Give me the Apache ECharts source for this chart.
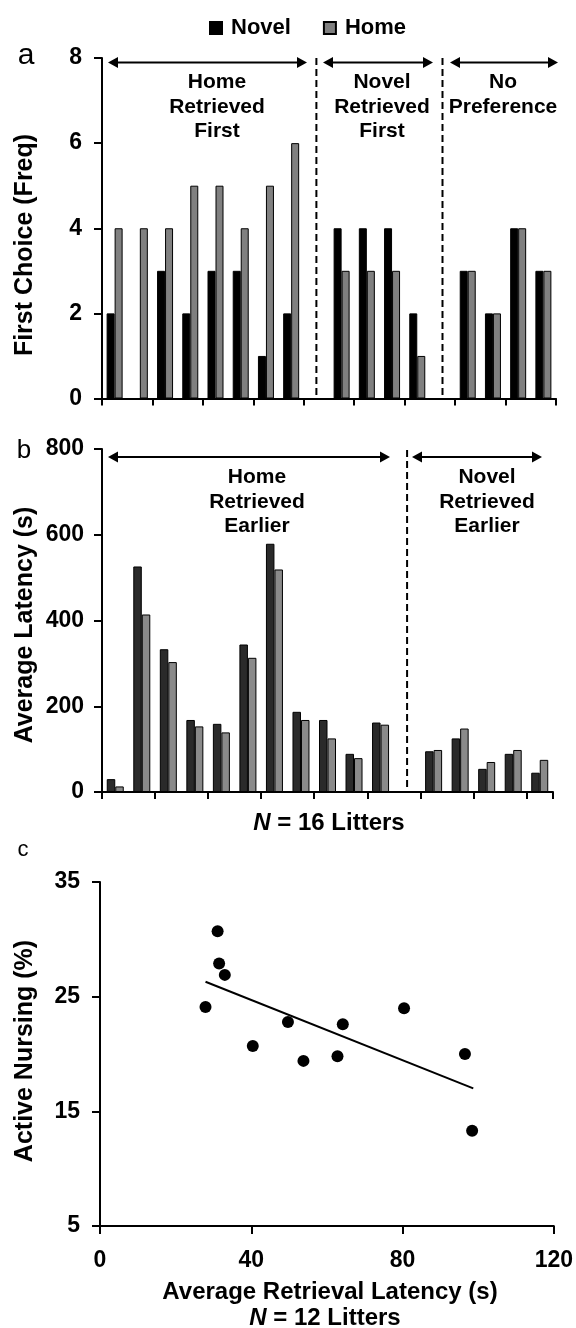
<!DOCTYPE html>
<html><head><meta charset="utf-8">
<script src="https://cdn.jsdelivr.net/npm/echarts@6/dist/echarts.min.js"></script>
<style>html,body{margin:0;padding:0;background:#fff}#c{width:576px;height:1328px}</style>
</head><body><div id="c"></div>
<script>
// ---- Panel a: first choice frequency (18 slots, two gap slots) ----
const catsA = ['L1','L2','L3','L4','L5','L6','L7','L8','gapA1','L9','L10','L11','L12','gapA2','L13','L14','L15','L16'];
const novelA = [2,0,3,2,3,3,1,2,null,4,4,4,2,null,3,2,4,3];
const homeA  = [4,4,4,5,5,4,5,6,null,3,3,3,1,null,3,2,4,3];
const ticksA = [0,2,4,6,8];

// ---- Panel b: average latency (17 slots, one gap slot) ----
const catsB = ['M1','M2','M3','M4','M5','M6','M7','M8','M9','M10','M11','gapB','M12','M13','M14','M15','M16'];
const novelB = [30,526,333,168,159,344,579,187,168,89,162,null,95,125,54,89,45];
const homeB  = [13,414,303,153,139,313,519,168,125,79,157,null,98,148,70,98,75];
const ticksB = [0,200,400,600,800];

// ---- Panel c: nursing vs latency ----
const latency = [31.1,31.5,33.0,27.9,40.4,49.7,53.8,62.8,64.2,80.4,96.5,98.4];
const nursing = [30.7,27.9,26.9,24.1,20.7,22.8,19.4,19.8,22.6,24.0,20.0,13.3];
const fitLine = [[27.9,26.3],[98.7,17.0]];
const ticksCx = [0,40,80,120];
const ticksCy = [5,15,25,35];

const FONT = '"Liberation Sans", Arial, Helvetica, sans-serif';
const chart = echarts.init(document.getElementById('c'), null, {renderer:'canvas'});

function catAxis(idx, cats){
  return {type:'category', gridIndex:idx, data:cats, boundaryGap:true,
    axisLine:{lineStyle:{color:'#000', width:2}},
    axisTick:{show:true, length:7, lineStyle:{color:'#000', width:2}},
    axisLabel:{show:false}, splitLine:{show:false}};
}
function valAxis(idx, min, max, interval, margin){
  return {type:'value', gridIndex:idx, min:min, max:max, interval:interval,
    axisLine:{show:true, lineStyle:{color:'#000', width:2}},
    axisTick:{show:true, length:8, lineStyle:{color:'#000', width:2}},
    axisLabel:{color:'#000', fontSize:23, fontWeight:'bold', fontFamily:FONT, margin:margin},
    splitLine:{show:false}};
}

const option = {
  animation:false,
  backgroundColor:'#fff',
  textStyle:{fontFamily:FONT},
  legend:{data:['Novel','Home'], left:204, top:12, icon:'rect', itemWidth:12, itemHeight:12, itemGap:32,
    textStyle:{color:'#000', fontSize:22, fontWeight:'bold', fontFamily:FONT, padding:[0,0,0,4]}},
  grid:[
    {left:102, top:58, width:454, height:340.5},
    {left:102, top:449, width:451, height:343},
    {left:100, top:882, width:454, height:344}
  ],
  xAxis:[
    catAxis(0, catsA),
    catAxis(1, catsB),
    valAxis(2, ticksCx[0], ticksCx[ticksCx.length-1], 40, 23)
  ],
  yAxis:[
    valAxis(0, ticksA[0], ticksA[ticksA.length-1], 2, 20),
    valAxis(1, ticksB[0], ticksB[ticksB.length-1], 200, 18),
    valAxis(2, ticksCy[0], ticksCy[ticksCy.length-1], 10, 20)
  ],
  series:[
    {name:'Novel', type:'bar', xAxisIndex:0, yAxisIndex:0, data:novelA, barWidth:8, barGap:'0%',
      itemStyle:{color:'#000', borderColor:'#000', borderWidth:1}},
    {name:'Home', type:'bar', xAxisIndex:0, yAxisIndex:0, data:homeA, barWidth:8, barGap:'0%',
      itemStyle:{color:'#808080', borderColor:'#000', borderWidth:1}},
    {name:'Novel', type:'bar', xAxisIndex:1, yAxisIndex:1, data:novelB, barWidth:8.5, barGap:'0%',
      itemStyle:{color:'#2a2a2a', borderColor:'#000', borderWidth:1}},
    {name:'Home', type:'bar', xAxisIndex:1, yAxisIndex:1, data:homeB, barWidth:8.5, barGap:'0%',
      itemStyle:{color:'#8a8a8a', borderColor:'#000', borderWidth:1}},
    {name:'Nursing', type:'scatter', xAxisIndex:2, yAxisIndex:2, symbolSize:12,
      data:latency.map((x,i)=>[x, nursing[i]]), itemStyle:{color:'#000', opacity:1}},
    {name:'Fit', type:'line', xAxisIndex:2, yAxisIndex:2, data:fitLine, symbol:'none',
      lineStyle:{color:'#000', width:2}}
  ]
};
chart.setOption(option);

function arrow(x1, x2, y){
  return [
    {type:'line', shape:{x1:x1+8, y1:y, x2:x2-8, y2:y}, style:{stroke:'#000', lineWidth:2}},
    {type:'polygon', shape:{points:[[x1,y],[x1+10,y-5.5],[x1+10,y+5.5]]}, style:{fill:'#000'}},
    {type:'polygon', shape:{points:[[x2,y],[x2-10,y-5.5],[x2-10,y+5.5]]}, style:{fill:'#000'}}
  ];
}
function dashed(x, y1, y2){
  return {type:'line', shape:{x1:x, y1:y1, x2:x, y2:y2}, style:{stroke:'#000', lineWidth:2, lineDash:[7,4]}};
}
function label(text, x, y, size, weight){
  return {type:'text', x:x, y:y, style:{text:text, fill:'#000', fontSize:size, fontWeight:weight||'bold', fontFamily:FONT,
    align:'center', verticalAlign:'top', lineHeight:24.5}};
}
function vlabel(text, x, y){
  return {type:'text', x:x, y:y, rotation:Math.PI/2, style:{text:text, fill:'#000', fontSize:25, fontWeight:'bold', fontFamily:FONT,
    align:'center', verticalAlign:'middle'}};
}
function letter(text, x, y, size){
  return {type:'text', x:x, y:y, style:{text:text, fill:'#000', fontSize:size, fontWeight:'normal', fontFamily:FONT,
    align:'center', verticalAlign:'middle'}};
}
function nLabel(num, x, y){
  return {type:'text', x:x, y:y, style:{text:'{i|N}{n| = ' + num + ' Litters}', align:'center', verticalAlign:'middle',
    rich:{i:{fontSize:24, fontWeight:'bold', fontStyle:'italic', fontFamily:FONT, fill:'#000'},
          n:{fontSize:24, fontWeight:'bold', fontFamily:FONT, fill:'#000'}}}};
}

const gx = (axis, cat) => { const p = chart.convertToPixel({xAxisIndex:axis}, cat); return Array.isArray(p) ? p[0] : p; };
const xA1 = gx(0,'gapA1'), xA2 = gx(0,'gapA2'), xB = gx(1,'gapB');

const g = [].concat(
  arrow(108, 307, 62.5), arrow(323, 433, 62.5), arrow(450, 558, 62.5),
  arrow(108, 390, 457), arrow(412, 542, 457),
  [dashed(xA1, 58, 398), dashed(xA2, 58, 398), dashed(xB, 450, 792),
   label('Home\nRetrieved\nFirst', 217, 70, 21),
   label('Novel\nRetrieved\nFirst', 382, 70, 21),
   label('No\nPreference', 503, 70, 21),
   label('Home\nRetrieved\nEarlier', 257, 465, 21),
   label('Novel\nRetrieved\nEarlier', 487, 465, 21),
   vlabel('First Choice (Freq)', 25, 245),
   vlabel('Average Latency (s)', 25, 625),
   vlabel('Active Nursing (%)', 25, 1051),
   letter('a', 26, 56, 30), letter('b', 24, 451, 26), letter('c', 23, 850, 22),
   nLabel(16, 329, 823),
   {type:'text', x:330, y:1292, style:{text:'Average Retrieval Latency (s)', fill:'#000', fontSize:24, fontWeight:'bold', fontFamily:FONT, align:'center', verticalAlign:'middle'}},
   nLabel(12, 325, 1318)
  ]
);
chart.setOption({graphic:{elements:g}});
</script>
</body></html>
